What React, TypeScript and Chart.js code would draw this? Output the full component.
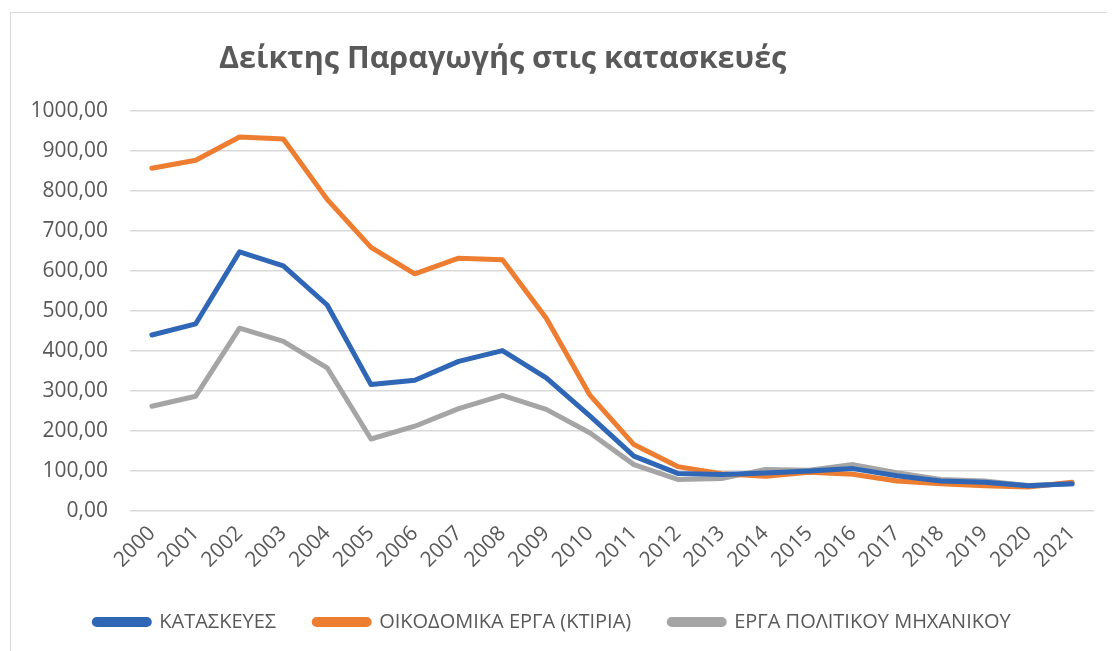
import React, { useEffect, useRef } from "react";
import { Chart, registerables } from "chart.js";

Chart.register(...registerables);

const TITLE = "Δείκτης Παραγωγής στις κατασκευές";
const years = ["2000","2001","2002","2003","2004","2005","2006","2007","2008","2009","2010","2011","2012","2013","2014","2015","2016","2017","2018","2019","2020","2021"];
const kataskeves = [440, 468, 648, 613, 515, 316, 327, 374, 401, 333, 237, 137, 94, 91, 95, 100, 106, 88, 75, 72, 63, 68];
const oikodomika = [857, 877, 935, 930, 779, 659, 593, 632, 628, 482, 289, 166, 111, 93, 87, 97, 92, 75, 68, 63, 60, 72];
const politikou = [262, 287, 457, 424, 358, 180, 212, 256, 289, 254, 195, 116, 79, 81, 104, 102, 116, 96, 79, 75, 64, 68];
const seriesNames = ["ΚΑΤΑΣΚΕΥΕΣ", "ΟΙΚΟΔΟΜΙΚΑ ΕΡΓΑ (ΚΤΙΡΙΑ)", "ΕΡΓΑ ΠΟΛΙΤΙΚΟΥ ΜΗΧΑΝΙΚΟΥ"];
const seriesColors = ["#2F67B6", "#ED7D31", "#A5A5A5"];

const FONT = "'Open Sans', sans-serif";
const TEXT = "#595959";

const titlePlugin = {
  id: "customTitle",
  afterDraw(chart: any) {
    const ctx = chart.ctx;
    ctx.save();
    ctx.font = `bold 30.5px ${FONT}`;
    ctx.fillStyle = TEXT;
    ctx.textBaseline = "alphabetic";
    ctx.textAlign = "left";
    ctx.fillText(TITLE, 208, 55);
    ctx.restore();
  },
};

export default function App() {
  const ref = useRef<HTMLCanvasElement>(null);
  useEffect(() => {
    const canvas = ref.current!;
    const data = [kataskeves, oikodomika, politikou];
    const chart = new Chart(canvas, {
      type: "line",
      data: {
        labels: years,
        datasets: data.map((d, i) => ({
          label: seriesNames[i],
          data: d,
          borderColor: seriesColors[i],
          backgroundColor: seriesColors[i],
          borderWidth: 5,
          pointRadius: 0,
          tension: 0,
          borderJoinStyle: "round" as const,
          borderCapStyle: "round" as const,
        })),
      },
      options: {
        responsive: false,
        animation: false,
        layout: { padding: { top: 98, left: 0, right: 21, bottom: 9 } },
        scales: {
          x: {
            offset: true,
            grid: { display: false, drawTicks: false },
            border: { display: false },
            ticks: {
              color: TEXT,
              font: { family: FONT, size: 21 },
              minRotation: 45,
              maxRotation: 45,
              padding: 10,
              autoSkip: false,
            },
            afterFit(scale: any) {
              scale.height = 63;
            },
          },
          y: {
            min: 0,
            max: 1000,
            grid: { color: "#D9D9D9", lineWidth: 1.5, drawTicks: false },
            border: { display: false },
            ticks: {
              stepSize: 100,
              color: TEXT,
              font: { family: FONT, size: 21 },
              padding: 22,
              callback: (v: any) => Number(v).toFixed(2).replace(".", ","),
            },
            afterFit(scale: any) {
              scale.width = 119;
            },
          },
        },
        plugins: {
          legend: {
            position: "bottom",
            labels: {
              color: TEXT,
              font: { family: FONT, size: 20 },
              boxWidth: 55,
              boxHeight: 5,
              useBorderRadius: true,
              borderRadius: 2.5,
              padding: 38,
            },
          },
          title: { display: false },
          tooltip: { enabled: false },
        },
      },
      plugins: [titlePlugin],
    });
    return () => chart.destroy();
  }, []);
  return (
    <div
      style={{
        marginLeft: 2,
        marginTop: 4,
        width: 1104,
        height: 638,
        borderTop: "1px solid #D9D9D9",
        borderLeft: "1px solid #D9D9D9",
        overflow: "hidden",
      }}
    >
      <canvas ref={ref} width={1104} height={638} style={{ display: "block" }} />
    </div>
  );
}
